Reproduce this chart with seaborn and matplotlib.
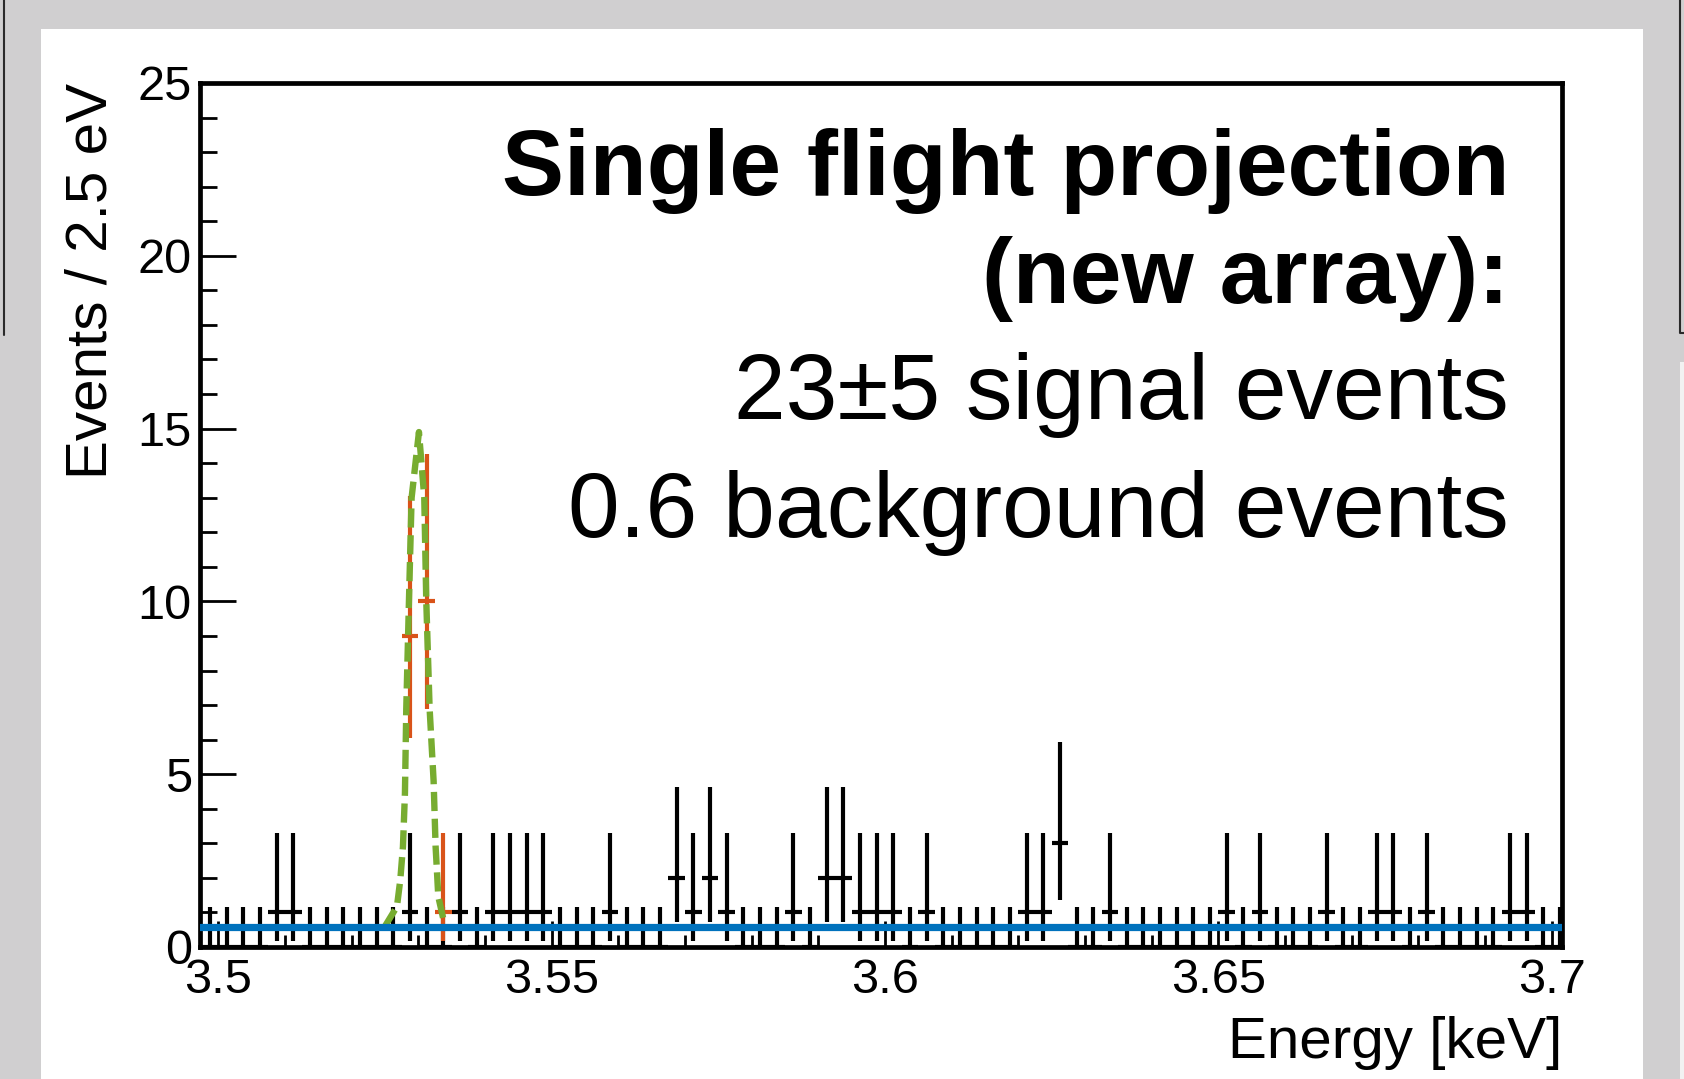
#!/usr/bin/env python3

import matplotlib
matplotlib.use('Agg')
import matplotlib.pyplot as plt
from matplotlib.patches import Rectangle
from matplotlib.lines import Line2D
from matplotlib.ticker import MultipleLocator, FixedLocator
import numpy as np
import seaborn as sns

# histogram binning (keV), 2.5 eV bins
bin_width = 0.0025
first_center = 3.49875

# black data points: events per bin
data_counts = [0, 0, 0, 0, 1, 1, 0, 0, 0, 0,
               0, 0, 1, 0, 0, 1, 0, 1, 1, 1,
               1, 0, 0, 0, 1, 0, 0, 0, 2, 1,
               2, 1, 0, 0, 0, 1, 0, 2, 2, 1,
               1, 1, 0, 1, 0, 0, 0, 0, 0, 1,
               1, 3, 0, 0, 1, 0, 0, 0, 0, 0,
               0, 1, 0, 1, 0, 0, 0, 1, 0, 0,
               1, 1, 0, 1, 0, 0, 0, 0, 1, 1,
               0, 0]

# orange signal points
sig_bins = [12, 13, 14]
sig_counts = [9, 10, 1]

# error bar ends, per count
err_count = [0, 1, 2, 3, 9, 10]
err_low = [0.0, 0.17, 0.71, 1.37, 6.06, 6.89]
err_high = [1.15, 3.30, 4.64, 5.92, 13.05, 14.27]

# green dashed peak (keV, events)
green_energy = [3.5250, 3.5268, 3.5273, 3.5277, 3.5280, 3.5282, 3.5286, 3.5290,
                3.5301, 3.5309, 3.5312, 3.5317, 3.5323, 3.5326, 3.5328, 3.5330, 3.5340]
green_height = [0.6, 1.17, 1.94, 2.9, 4.45, 6.9, 10.0, 13.0,
                14.9, 13.0, 10.0, 6.9, 4.8, 2.9, 2.2, 1.46, 0.6]

# blue background level
bkg_level = 0.59

x_ticks = [3.5, 3.55, 3.6, 3.65, 3.7]
x_ticklabels = ['3.5', '3.55', '3.6', '3.65', '3.7']

text_lines = ['Single flight projection', '(new array):',
              '23\u00b15 signal events', '0.6 background events']

sns.set_style('ticks', rc={'text.color': 'black', 'axes.labelcolor': 'black',
                           'xtick.color': 'black', 'ytick.color': 'black',
                           'axes.edgecolor': 'black'})
plt.rcParams['font.family'] = ['Liberation Sans', 'DejaVu Sans']

W, H = 1684, 1079
fig = plt.figure(figsize=(W / 100, H / 100), dpi=100)
fig.patch.set_facecolor('#d0cfd0')

# white slide area and screenshot edges
fig.add_artist(Rectangle((41 / W, 0), (1643 - 41) / W, (H - 29) / H,
                         transform=fig.transFigure, facecolor='white',
                         edgecolor='none', zorder=-2))
fig.add_artist(Rectangle((1680 / W, 0), 4 / W, (H - 362) / H,
                         transform=fig.transFigure, facecolor='#f2f2f2',
                         edgecolor='none', zorder=-2))
fig.add_artist(Line2D([3.5 / W, 3.5 / W], [1, 1 - 335 / H], transform=fig.transFigure,
                      color='#2a2a2a', lw=1.5, zorder=-1))
fig.add_artist(Line2D([1680 / W, 1680 / W, 1684 / W], [1, 1 - 333 / H, 1 - 333 / H],
                      transform=fig.transFigure, color='#2a2a2a', lw=1.5, zorder=-1))

ax = fig.add_axes([200 / W, (H - 947) / H, 1362 / W, 864 / H])
ax.set_facecolor('white')

centers = first_center + bin_width * np.arange(len(data_counts))

# black data with asymmetric Poisson bars
lo = np.array([err_low[err_count.index(c)] for c in data_counts])
hi = np.array([err_high[err_count.index(c)] for c in data_counts])
cnt = np.array(data_counts, dtype=float)
ax.errorbar(centers, cnt, yerr=[cnt - lo, hi - cnt], xerr=bin_width / 2,
            fmt='none', ecolor='black', elinewidth=3.0, capsize=0, zorder=3)

# orange signal
sig_x = centers[sig_bins]
s_lo = np.array([err_low[err_count.index(c)] for c in sig_counts])
s_hi = np.array([err_high[err_count.index(c)] for c in sig_counts])
s_cnt = np.array(sig_counts, dtype=float)
ax.errorbar(sig_x, s_cnt, yerr=[s_cnt - s_lo, s_hi - s_cnt], xerr=bin_width / 2,
            fmt='none', ecolor='#D95319', elinewidth=3.0, capsize=0, zorder=4)

# green dashed fit
sns.lineplot(x=green_energy, y=green_height, sort=False, estimator=None,
             color='#77AC30', lw=4.6, ax=ax, zorder=5)
ax.lines[-1].set_dashes([3, 1.2])

# blue background
ax.axhline(bkg_level, color='#0072BD', lw=5.2, zorder=6)

ax.set_xlim(3.49726, 3.70155)
ax.set_ylim(0, 25)
ax.xaxis.set_major_locator(FixedLocator(x_ticks))
ax.set_xticklabels(x_ticklabels)
ax.xaxis.set_minor_locator(MultipleLocator(0.01))
ax.yaxis.set_major_locator(MultipleLocator(5))
ax.yaxis.set_minor_locator(MultipleLocator(1))

ax.tick_params(axis='x', which='major', direction='in', length=19, width=2,
               labelsize=35, pad=8, bottom=True, top=False)
ax.tick_params(axis='x', which='minor', direction='in', length=8.5, width=2,
               bottom=True, top=False)
ax.tick_params(axis='y', which='major', direction='in', length=26, width=2,
               labelsize=35, pad=6, left=True, right=False)
ax.tick_params(axis='y', which='minor', direction='in', length=12, width=2,
               left=True, right=False)
for s in ax.spines.values():
    s.set_visible(True)
    s.set_linewidth(3.4)
    s.set_color('black')

ax.set_xlabel('Energy [keV]', fontsize=42, loc='right')
ax.xaxis.label.set_va('baseline')
ax.xaxis.set_label_coords(1.0, (947 - 1058) / 864)
ax.set_ylabel('Events / 2.5 eV', fontsize=42, loc='top')
ax.yaxis.label.set_va('baseline')
ax.yaxis.set_label_coords((107 - 200) / 1362, 1.0)

# text block, right aligned
text_x = (1509 - 200) / 1362
baselines = [195.5, 303, 419, 537]
weights = ['bold', 'bold', 'normal', 'normal']
for line, yb, w in zip(text_lines, baselines, weights):
    ax.text(text_x, (947 - yb) / 864, line, transform=ax.transAxes,
            ha='right', va='baseline', fontsize=67, fontweight=w, zorder=7)

fig.savefig('out.png', dpi=100, facecolor=fig.get_facecolor())
plt.close(fig)
